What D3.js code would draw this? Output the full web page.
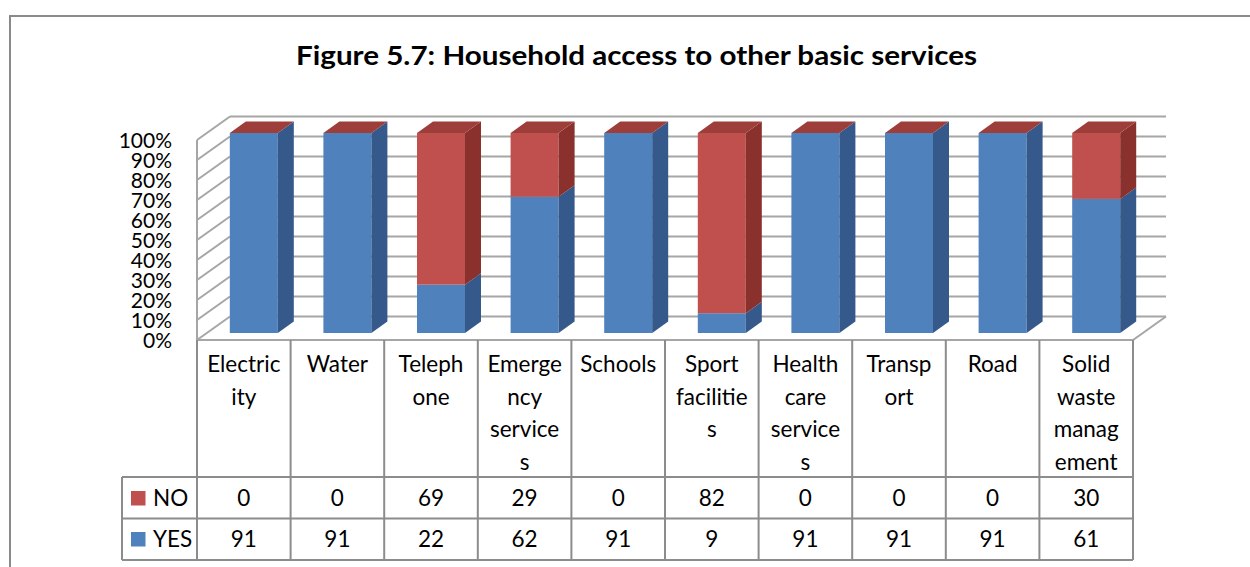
<!DOCTYPE html>
<html><head><meta charset="utf-8">
<script src="https://cdn.jsdelivr.net/npm/d3@7"></script>
<style>body{margin:0;background:#fff}svg{display:block}text{font-family:Lato,"Open Sans",sans-serif;fill:#000}</style>
</head><body>
<svg id="c" width="1250" height="567"></svg>
<script>
const categories = ["Electricity","Water","Telephone","Emergency services","Schools","Sport facilities","Health care services","Transport","Road","Solid waste management"];
const labelLines = [["Electric","ity"],["Water"],["Teleph","one"],["Emerge","ncy","service","s"],["Schools"],["Sport","facilitie","s"],["Health","care","service","s"],["Transp","ort"],["Road"],["Solid","waste","manag","ement"]];
const seriesKeys = ["YES","NO"];
const yesValues = [91,91,22,62,91,9,91,91,91,61];
const noValues = [0,0,69,29,0,82,0,0,0,30];
const yTicks = [0,0.1,0.2,0.3,0.4,0.5,0.6,0.7,0.8,0.9,1];
const title = "Figure 5.7: Household access to other basic services";

const colors = {YES:{front:"#4F81BD",side:"#34598A",top:"#5A8AC6"}, NO:{front:"#C0504D",side:"#8A302D",top:"#9E3E3A"}};
const gridColor = "#A6A6A6", tableColor = "#8C8C8C";

const svg = d3.select("#c");
const left = 197, right = 1133, floorY = 340, topY = 140;
const depth = {dx:33, dy:-23.5};
const barOff = {dx:10, dy:-7}, barDepth = {dx:16, dy:-11.5}, barW = 48;

const x = d3.scaleBand().domain(categories).range([left,right]).paddingInner(0).paddingOuter(0);
const y = d3.scaleLinear().domain([0,1]).range([floorY, topY]);

// outer frame
svg.append("path").attr("d", "M10,567 L10,16 L1250,16").attr("fill","none").attr("stroke","#8a8a8a").attr("stroke-width",2);

// title
svg.append("text").attr("x",636.5).attr("y",65).attr("text-anchor","middle")
  .attr("textLength",681).attr("lengthAdjust","spacingAndGlyphs")
  .style("font-weight","bold").style("font-size","27px").text(title);

// back wall gridlines
const g = svg.append("g");
g.selectAll("line.back").data(yTicks).join("line")
  .attr("x1", left+depth.dx).attr("x2", right+depth.dx)
  .attr("y1", d=>y(d)+depth.dy).attr("y2", d=>y(d)+depth.dy)
  .attr("stroke",gridColor).attr("stroke-width",2);
// side wall
g.selectAll("line.side").data(yTicks).join("line")
  .attr("x1", left).attr("x2", left+depth.dx)
  .attr("y1", d=>y(d)).attr("y2", d=>y(d)+depth.dy)
  .attr("stroke",gridColor).attr("stroke-width",2);
g.append("line").attr("x1",left).attr("x2",left).attr("y1",y(1)).attr("y2",y(0)).attr("stroke",gridColor).attr("stroke-width",2);
// floor
g.append("path").attr("d",`M${left},${y(0)} L${right},${y(0)} L${right+depth.dx},${y(0)+depth.dy}`)
  .attr("fill","none").attr("stroke",gridColor).attr("stroke-width",2);

// stacked data
const rows = categories.map((c,i)=>({cat:c, YES:yesValues[i], NO:noValues[i]}));
const stack = d3.stack().keys(seriesKeys).offset(d3.stackOffsetExpand)(rows);

const bars = svg.append("g");
categories.forEach((c,i)=>{
  const x0 = x(c) + x.bandwidth()/2 - barW/2 + barOff.dx, x1 = x0 + barW;
  stack.forEach(s=>{
    const seg = s[i];
    const yb = y(seg[0]) + barOff.dy, yt = y(seg[1]) + barOff.dy;
    const col = colors[s.key];
    if (yb - yt > 0.01) {
      bars.append("rect").attr("x",x0).attr("y",yt).attr("width",barW).attr("height",yb-yt).attr("fill",col.front);
      bars.append("path").attr("d",`M${x1},${yb} L${x1+barDepth.dx},${yb+barDepth.dy} L${x1+barDepth.dx},${yt+barDepth.dy} L${x1},${yt} Z`).attr("fill",col.side);
    }
  });
  // top face drawn with the last series colour (as in the reference)
  const last = stack[stack.length-1];
  const ytop = y(last[i][1]) + barOff.dy;
  bars.append("path").attr("d",`M${x0},${ytop} L${x1},${ytop} L${x1+barDepth.dx},${ytop+barDepth.dy} L${x0+barDepth.dx},${ytop+barDepth.dy} Z`).attr("fill",colors[last.key].top);
});

// y axis labels
const yAxis = d3.axisLeft(y).tickValues(yTicks).tickFormat(d3.format(".0%")).tickSize(0).tickPadding(0);
const ya = svg.append("g").attr("transform",`translate(172,0)`).call(yAxis);
ya.select(".domain").remove();
ya.selectAll("text").style("font-size","21px").style("font-family","Lato").style("fill","#000").attr("dy","0.36em");

// data table
const t = svg.append("g");
const headBottom = 477, row1Bottom = 518.5, row2Bottom = 560, legLeft = 122;
const bounds = categories.map(c=>x(c)).concat([right]);
t.selectAll("line.v").data(bounds).join("line")
  .attr("x1",d=>d).attr("x2",d=>d).attr("y1",floorY).attr("y2",row2Bottom)
  .attr("stroke",tableColor).attr("stroke-width",2);
t.append("line").attr("x1",legLeft).attr("x2",legLeft).attr("y1",headBottom).attr("y2",row2Bottom).attr("stroke",tableColor).attr("stroke-width",2);
[headBottom,row1Bottom,row2Bottom].forEach(yy=>{
  t.append("line").attr("x1",legLeft).attr("x2",right).attr("y1",yy).attr("y2",yy).attr("stroke",tableColor).attr("stroke-width",2);
});
// header labels
categories.forEach((c,i)=>{
  const cx = x(c)+x.bandwidth()/2;
  labelLines[i].forEach((ln,j)=>{
    t.append("text").attr("x",cx).attr("y",372+j*32.5).attr("text-anchor","middle").style("font-size","22.5px").text(ln);
  });
});
// value rows
const tableRows = [{key:"NO", vals:noValues, base:506},{key:"YES", vals:yesValues, base:547}];
tableRows.forEach(r=>{
  categories.forEach((c,i)=>{
    t.append("text").attr("x",x(c)+x.bandwidth()/2).attr("y",r.base).attr("text-anchor","middle").style("font-size","22.5px").text(r.vals[i]);
  });
  t.append("rect").attr("x",131).attr("y",r.base-15).attr("width",14.5).attr("height",14.5).attr("fill",colors[r.key].front);
  t.append("text").attr("x",153).attr("y",r.base).style("font-size","22.5px").text(r.key);
});
</script>
</body></html>
